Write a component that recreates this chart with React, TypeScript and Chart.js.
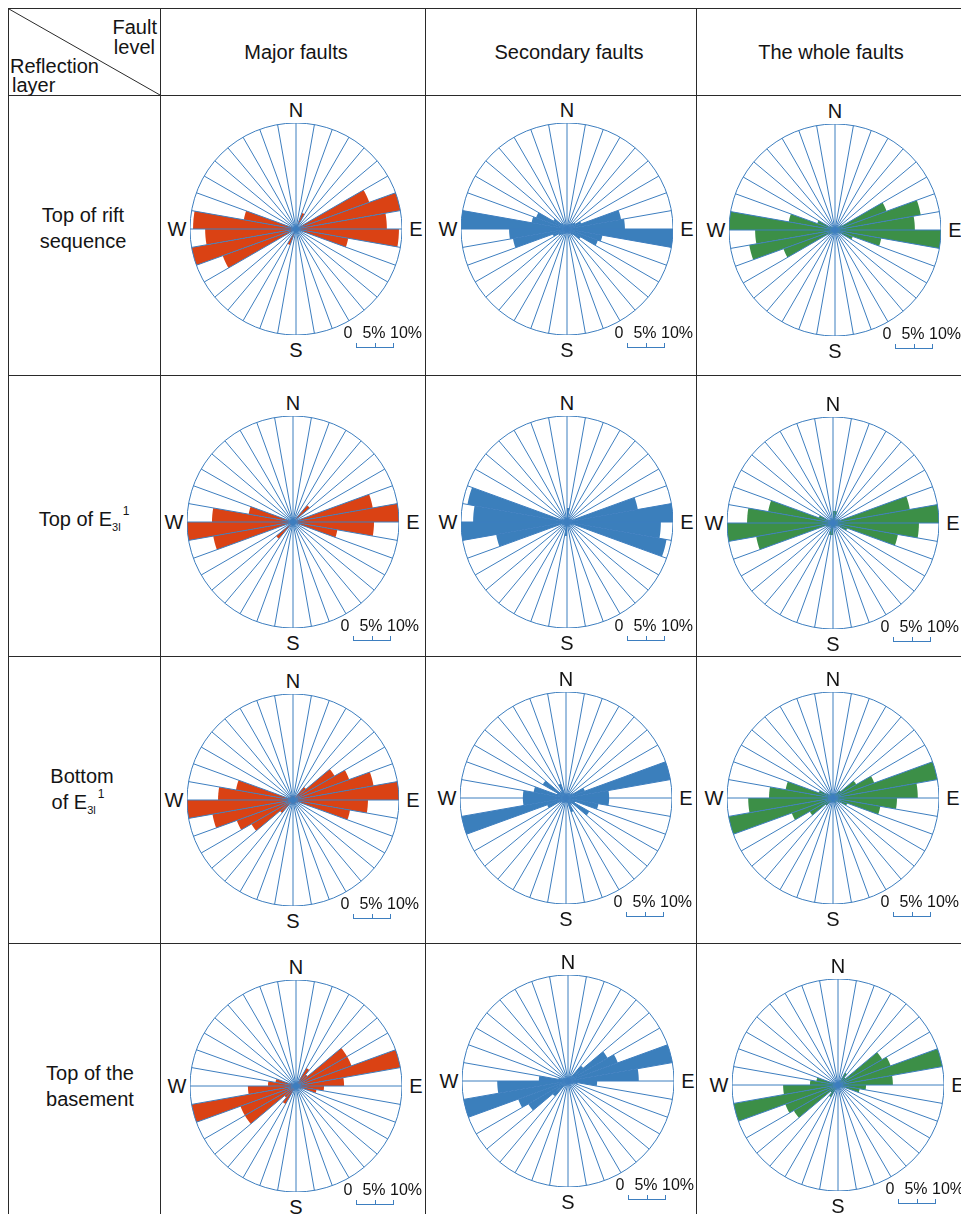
import React, { useEffect, useRef } from 'react';
import { Chart, registerables } from 'chart.js';

Chart.register(...registerables);

const FONT = '"Liberation Sans", Arial, Helvetica, sans-serif';
const LINE_BLUE = '#3D7EBF';
const TABLE_LINE = '#2a2a2a';
const SCALE_MAX = 28; // percent at the rim of every rose

// 10° strike sectors, clockwise from north (first half) and their opposite directions
const strikeSectors = [
  '0-10°', '10-20°', '20-30°', '30-40°', '40-50°', '50-60°', '60-70°', '70-80°', '80-90°',
  '90-100°', '100-110°', '110-120°', '120-130°', '130-140°', '140-150°', '150-160°', '160-170°', '170-180°',
];
const oppositeSectors = [
  '180-190°', '190-200°', '200-210°', '210-220°', '220-230°', '230-240°', '240-250°', '250-260°', '260-270°',
  '270-280°', '280-290°', '290-300°', '300-310°', '310-320°', '320-330°', '330-340°', '340-350°', '350-360°',
];

const columnTitles = ['Major faults', 'Secondary faults', 'The whole faults'];
const columnColors = ['#DA4214', '#3B7FBC', '#3C8F47'];
const scaleLabels = ['0', '5%', '10%'];

// frequency (%) per strike sector 0-10° ... 170-180° (bidirectional)
const riftMajor = [0.5, 0.8, 4.5, 0.5, 0.5, 0.8, 20.6, 28, 24.0, 27.2, 14.0, 0.8, 0.5, 0.5, 0.5, 0.5, 0.5, 0.5];
const riftSecondary = [0.8, 1.1, 1.3, 1.6, 2.1, 2.6, 4.0, 14.5, 15.3, 28, 9.5, 8.7, 4.2, 2.1, 1.3, 1.1, 0.8, 0.8];
const riftWhole = [0.5, 0.5, 0.8, 1.1, 1.3, 2.1, 14.5, 23.0, 21.1, 28, 12.4, 5.0, 1.6, 1.1, 0.8, 0.5, 0.5, 0.5];

const e31TopMajor = [1.1, 0.8, 0.8, 0.8, 5.8, 0.8, 0.8, 21.4, 28, 21.4, 11.9, 0.8, 0.8, 0.8, 0.8, 0.8, 0.8, 0.8];
const e31TopSecondary = [3.7, 1.1, 1.1, 1.1, 1.1, 1.3, 1.3, 19.0, 28, 24.8, 26.7, 1.6, 1.1, 1.1, 1.1, 1.1, 1.1, 1.1];
const e31TopWhole = [3.2, 3.2, 1.1, 1.1, 1.3, 1.6, 2.1, 20.6, 28, 22.7, 17.4, 4.0, 1.3, 1.1, 1.1, 1.1, 1.1, 1.1];

const e31BottomMajor = [1.1, 1.1, 1.1, 1.1, 4.5, 12.7, 15.8, 21.6, 28, 19.8, 15.3, 1.3, 1.1, 1.1, 1.1, 1.1, 1.1, 1.1];
const e31BottomSecondary = [1.1, 1.1, 1.3, 1.6, 1.6, 2.1, 5.3, 28, 11.4, 11.4, 8.7, 2.6, 7.1, 2.1, 2.1, 4.0, 1.3, 1.1];
const e31BottomWhole = [1.1, 1.1, 1.1, 1.6, 2.6, 7.1, 11.6, 28, 22.4, 16.9, 12.7, 4.0, 2.1, 1.3, 1.3, 1.6, 1.1, 1.1];

const basementMajor = [0.8, 0.8, 1.3, 5.5, 4.0, 15.6, 15.6, 28, 12.7, 7.4, 5.5, 1.6, 1.1, 0.8, 0.8, 0.8, 0.8, 0.8];
const basementSecondary = [0.8, 0.8, 1.1, 1.6, 5.3, 12.1, 14.0, 28, 18.7, 7.7, 2.6, 1.6, 1.3, 1.1, 1.1, 0.8, 0.8, 0.8];
const basementWhole = [0.8, 0.8, 1.3, 3.7, 2.6, 13.5, 14.8, 28, 14.5, 7.4, 5.8, 1.6, 1.1, 0.8, 0.8, 0.8, 0.8, 0.8];

const roseRows = [
  [riftMajor, riftSecondary, riftWhole],
  [e31TopMajor, e31TopSecondary, e31TopWhole],
  [e31BottomMajor, e31BottomSecondary, e31BottomWhole],
  [basementMajor, basementSecondary, basementWhole],
];

// layout (page coordinates)
const PAGE_W = 961;
const PAGE_H = 1214;
const ROSE_R = 106;
const roseCenters = [
  [[296, 229], [567, 229], [835, 230]],
  [[293, 522], [567, 522], [833, 523]],
  [[293, 800], [566, 798], [833, 798]],
  [[296, 1086], [568, 1081], [838, 1085]],
];
const vLines = [8, 160, 425, 696];
const hLines = [8, 95, 375, 656, 943];
const titleX = [296, 569, 831];

const Ex = ({ size = 20 }: { size?: number }) => (
  <span>
    E
    <span style={{ fontSize: size * 0.55, verticalAlign: -5 }}>3l</span>
    <span style={{ fontSize: size * 0.6, verticalAlign: 11, marginLeft: 2 }}>1</span>
  </span>
);

function Text({ x, y, size = 20, align = 'center', children }: any) {
  const tx = align === 'center' ? '-50%' : align === 'right' ? '-100%' : '0';
  return (
    <div
      style={{
        position: 'absolute',
        left: x,
        top: y,
        transform: `translate(${tx}, -50%)`,
        fontSize: size,
        fontFamily: FONT,
        whiteSpace: 'nowrap',
        lineHeight: 1,
        color: '#141414',
      }}
    >
      {children}
    </div>
  );
}

function Rose({ cx, cy, values, color }: { cx: number; cy: number; values: number[]; color: string }) {
  const ref = useRef<HTMLCanvasElement>(null);
  useEffect(() => {
    if (!ref.current) return;
    const chart = new Chart(ref.current, {
      type: 'polarArea',
      data: {
        labels: [...strikeSectors, ...oppositeSectors],
        datasets: [
          {
            data: [...values, ...values],
            backgroundColor: color,
            borderColor: color,
            borderWidth: 0,
          },
        ],
      },
      options: {
        responsive: false,
        animation: false,
        events: [],
        layout: { padding: 0 },
        plugins: { legend: { display: false }, tooltip: { enabled: false } },
        scales: {
          r: {
            min: 0,
            max: SCALE_MAX,
            startAngle: 0,
            ticks: { display: false, stepSize: SCALE_MAX },
            grid: { display: true, circular: true, color: LINE_BLUE, lineWidth: 1, z: 1 },
            angleLines: { display: true, color: LINE_BLUE, lineWidth: 1 },
            pointLabels: { display: false },
          },
        },
      } as any,
    });
    return () => chart.destroy();
  }, [values, color]);

  const barLeft = cx + 60;
  const barW = 38;
  const barY = cy + 118;
  return (
    <>
      <canvas
        ref={ref}
        width={ROSE_R * 2}
        height={ROSE_R * 2}
        style={{ position: 'absolute', left: cx - ROSE_R, top: cy - ROSE_R, width: ROSE_R * 2, height: ROSE_R * 2 }}
      />
      <Text x={cx} y={cy - 119}>N</Text>
      <Text x={cx} y={cy + 121}>S</Text>
      <Text x={cx - 119} y={cy}>W</Text>
      <Text x={cx + 120} y={cy}>E</Text>
      <Text x={cx + 52} y={cy + 104} size={16}>{scaleLabels[0]}</Text>
      <Text x={cx + 78} y={cy + 104} size={16}>{scaleLabels[1]}</Text>
      <Text x={cx + 110} y={cy + 104} size={16}>{scaleLabels[2]}</Text>
      <div style={{ position: 'absolute', left: barLeft, top: barY, width: barW, height: 1, background: LINE_BLUE }} />
      {[0, 0.5, 1].map((f, i) => (
        <div
          key={i}
          style={{ position: 'absolute', left: Math.round(barLeft + f * barW) - (f === 1 ? 1 : 0), top: barY - 4, width: 1, height: 4, background: LINE_BLUE }}
        />
      ))}
    </>
  );
}

export default function App() {
  return (
    <div
      style={{
        position: 'fixed',
        left: 0,
        top: 0,
        width: PAGE_W,
        height: PAGE_H,
        overflow: 'hidden',
        fontFamily: FONT,
        background: '#fff',
      }}
    >
      {vLines.map((x, i) => (
        <div key={'v' + i} style={{ position: 'absolute', left: x, top: 8, width: 1, height: PAGE_H - 8, background: TABLE_LINE }} />
      ))}
      {hLines.map((y, i) => (
        <div key={'h' + i} style={{ position: 'absolute', left: 8, top: y, width: PAGE_W - 8, height: 1, background: TABLE_LINE }} />
      ))}
      <svg style={{ position: 'absolute', left: 8, top: 8 }} width={153} height={88}>
        <line x1={1} y1={1} x2={152} y2={87} stroke={TABLE_LINE} strokeWidth={1} />
      </svg>

      <Text x={157} y={27} align="right">Fault</Text>
      <Text x={155} y={47} align="right">level</Text>
      <Text x={10} y={66} align="left">Reflection</Text>
      <Text x={12} y={85} align="left">layer</Text>

      {columnTitles.map((t, i) => (
        <Text key={t} x={titleX[i]} y={52}>{t}</Text>
      ))}

      <Text x={83} y={215}>Top of rift</Text>
      <Text x={83} y={241}>sequence</Text>
      <Text x={84} y={519}>Top of <Ex /></Text>
      <Text x={82} y={776}>Bottom</Text>
      <Text x={78} y={802}>of <Ex /></Text>
      <Text x={90} y={1073}>Top of the</Text>
      <Text x={90} y={1099}>basement</Text>

      {roseRows.map((row, r) =>
        row.map((vals, c) => (
          <Rose key={r + '-' + c} cx={roseCenters[r][c][0]} cy={roseCenters[r][c][1]} values={vals} color={columnColors[c]} />
        ))
      )}
    </div>
  );
}
